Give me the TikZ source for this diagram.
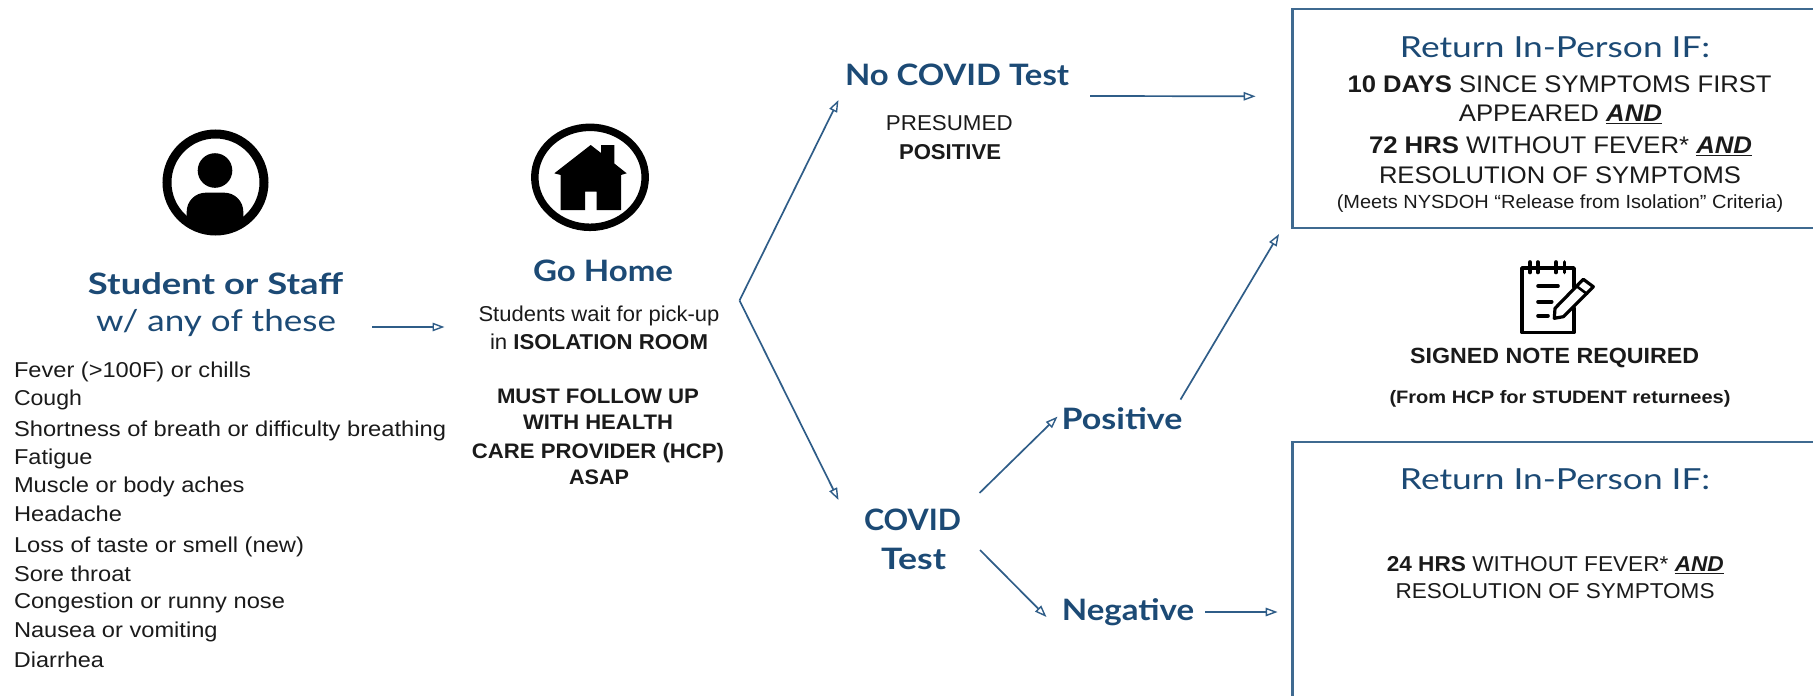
\documentclass[tikz,border=0pt]{standalone}
\usepackage{fontspec}
\usepackage{graphicx}
\setmainfont{Liberation Sans}
\newfontfamily\headfont{Lato}
\usetikzlibrary{arrows.meta,calc}
\definecolor{headblue}{HTML}{1C4A75}
\definecolor{linkblue}{HTML}{2F5D88}
\definecolor{boxblue}{HTML}{3F6A90}
\definecolor{inktext}{HTML}{1A1A1A}
\newcommand{\fw}[2]{\resizebox{#1pt}{\height}{#2}}
\newcommand{\fsz}[1]{\fontsize{#1}{#1}\selectfont}
\newcommand{\andu}{\textbf{\textit{\underline{AND}}}}
\tikzset{
  lbl/.style={inner sep=0pt,outer sep=0pt,anchor=base},
  headb/.style={lbl,text=headblue,font=\headfont\bfseries\fsz{29.5}},
  headr/.style={lbl,text=headblue,font=\headfont\fsz{30}},
  bodyl/.style={lbl,text=inktext,font=\fsz{24}},
  bodym/.style={lbl,text=inktext,font=\fsz{21.5}},
  symp/.style={lbl,anchor=base west,text=inktext,font=\fsz{21.5}},
  small/.style={lbl,text=inktext,font=\fsz{19}},
  retbox/.style={draw=boxblue,line width=2.4pt,inner sep=0pt,outer sep=0pt,rectangle},
  link/.style={draw=linkblue,line width=1.7pt,-{Triangle[open,length=12pt,width=8.5pt,line width=1.4pt]}}
}
\begin{document}
\begin{tikzpicture}[x=1pt,y=-1pt]
\useasboundingbox (0,0) rectangle (1813,696);
% person icon
\draw[black,line width=9pt] (215.5,182.5) circle [radius=48.5];
\fill[black] (215,170.5) circle [radius=17.3];
\begin{scope}
\clip (215.5,182.5) circle [radius=50];
\fill[black,rounded corners=19pt] (186.7,260)--(186.7,192.7)--(243.3,192.7)--(243.3,260)--cycle;
\end{scope}
% house icon
\draw[black,line width=7.5pt] (590,177.3) ellipse [x radius=55.2,y radius=50];
\fill[black] (590.7,145)--(601,153)--(601,145)--(614.3,145)--(614.3,163.5)--(626.7,173.3)--(621,175)--(621,210)--(596.7,210)--(596.7,191.7)--(585,191.7)--(585,210)--(560.7,210)--(560.7,175)--(554.3,173.3)--cycle;
% note icon
\begin{scope}[black,line width=3.6pt,line cap=round,line join=round]
\draw (1574,287)--(1574,268)--(1522,268)--(1522,332.5)--(1574,332.5)--(1574,308);
\draw (1530,262)--(1530,272.5) (1537.7,262)--(1537.7,272.5) (1556,262)--(1556,272.5) (1564.3,262)--(1564.3,272.5);
\draw (1538,286)--(1558,286) (1538,301.7)--(1551.7,301.7) (1538,315.7)--(1548,315.7);
\draw[line width=3.2pt] (1583.3,279.3)--(1593.3,286.7)--(1563.3,316.7)--(1554.3,318.3)--(1555,308.3)--cycle;
\draw[line width=2.6pt] (1577,286.5)--(1587,294);
\end{scope}
% left column
\node[headb] (student) at (215.5,294.7) {\fw{255}{Student or Staff}};
\node[headr] (wany) at (216,331) {\fw{240}{w/ any of these}};
\node[symp] (s1) at (14,377.6) {\fw{237}{Fever (>100F) or chills}};
\node[symp] (s2) at (14,405) {\fw{68}{Cough}};
\node[symp] (s3) at (14,436.5) {\fw{432}{Shortness of breath or difficulty breathing}};
\node[symp] (s4) at (14,464) {\fw{78.6}{Fatigue}};
\node[symp] (s5) at (14,492.8) {\fw{230.6}{Muscle or body aches}};
\node[symp] (s6) at (14,521) {\fw{108}{Headache}};
\node[symp] (s7) at (14,552.5) {\fw{290}{Loss of taste or smell (new)}};
\node[symp] (s8) at (14,581) {\fw{117}{Sore throat}};
\node[symp] (s9) at (14,608.8) {\fw{271}{Congestion or runny nose}};
\node[symp] (s10) at (14,637) {\fw{203.6}{Nausea or vomiting}};
\node[symp] (s11) at (14,667.7) {\fw{90}{Diarrhea}};
% go home column
\node[headb] (gohome) at (603,281.4) {\fw{140}{Go Home}};
\node[symp,anchor=base] (g1) at (599,321.7) {\fw{241}{Students wait for pick-up}};
\node[symp,anchor=base] (g2) at (599,349.8) {\fw{218}{in \textbf{ISOLATION ROOM}}};
\node[symp,anchor=base,font=\bfseries\fsz{21}] (g3) at (598,403) {\fw{202}{MUST FOLLOW UP}};
\node[symp,anchor=base,font=\bfseries\fsz{21}] (g4) at (598,429) {\fw{150}{WITH HEALTH}};
\node[symp,anchor=base,font=\bfseries\fsz{21}] (g5) at (598,458) {\fw{252}{CARE PROVIDER (HCP)}};
\node[symp,anchor=base,font=\bfseries\fsz{21}] (g6) at (599,484) {\fw{60}{ASAP}};
% decision column
\coordinate (fork) at (739.5,300.5);
\node[headb] (nocovid) at (957,85) {\fw{224}{No COVID Test}};
\node[bodym] (pres1) at (949.3,130.5) {\fw{126.7}{PRESUMED}};
\node[bodym,font=\bfseries\fsz{21.5}] (pres2) at (950,159.5) {\fw{102}{POSITIVE}};
\node[headb] (covid) at (912.5,530.4) {\fw{97}{COVID}};
\node[headb] (covidt) at (913.5,569) {\fw{65}{Test}};
\node[headb] (positive) at (1122,429.6) {\fw{120.7}{Positive}};
\node[headb] (negative) at (1128,620) {\fw{132.3}{Negative}};
% return boxes
\node[retbox,minimum width=523.4pt,minimum height=219pt] (box1) at (1554.3,118.5) {};
\node[retbox,minimum width=523.4pt,minimum height=256pt] (box2) at (1554.3,569.7) {};
\node[headr,font=\headfont\fsz{29}] (r1) at (1555,57.3) {\fw{310}{Return In-Person IF:}};
\node[bodyl] (r2) at (1559.6,92) {\fw{424}{\textbf{10 DAYS} SINCE SYMPTOMS FIRST}};
\node[bodyl] (r3) at (1560.4,121.7) {\fw{203}{APPEARED \andu}};
\node[bodyl] (r4) at (1560.5,153.3) {\fw{383}{\textbf{72 HRS} WITHOUT FEVER* \andu}};
\node[bodyl] (r5) at (1560,183.3) {\fw{362}{RESOLUTION OF SYMPTOMS}};
\node[small] (r6) at (1560,208) {\fw{446.5}{(Meets NYSDOH ``Release from Isolation'' Criteria)}};
\node[bodyl,font=\bfseries\fsz{22}] (signed) at (1554.6,363) {\fw{289}{SIGNED NOTE REQUIRED}};
\node[small,font=\bfseries\fsz{18}] (hcp) at (1560,403) {\fw{341}{(From HCP for STUDENT returnees)}};
\node[headr,font=\headfont\fsz{29}] (q1) at (1555,489.3) {\fw{310}{Return In-Person IF:}};
\node[bodym] (q2) at (1555.3,571.7) {\fw{337}{\textbf{24 HRS} WITHOUT FEVER* \andu}};
\node[bodym] (q3) at (1555,598.3) {\fw{319}{RESOLUTION OF SYMPTOMS}};
% connectors
\draw[link] ([shift={(156,-4)}]wany.base) -- ([shift={(-158.5,45.6)}]gohome.base);
\draw[link] (fork) -- ([shift={(-118.5,15)}]nocovid.base);
\draw[link] (fork) -- ([shift={(-74,-30.4)}]covid.base);
\draw[link] ([shift={(133,11)}]nocovid.base) -- ([shift={(-37,-22.2)}]box1.west);
\draw[link] ([shift={(67,-37.4)}]covid.base) -- ([shift={(-64.5,-13)}]positive.base);
\draw[link] ([shift={(67.5,19.6)}]covid.base) -- ([shift={(-81.5,-3)}]negative.base);
\draw[link] ([shift={(58.5,-30)}]positive.base) -- ([shift={(-13.6,6)}]box1.south west);
\draw[link] ([shift={(77,-8)}]negative.base) -- ([shift={(-15,42.3)}]box2.west);
\end{tikzpicture}
\end{document}
